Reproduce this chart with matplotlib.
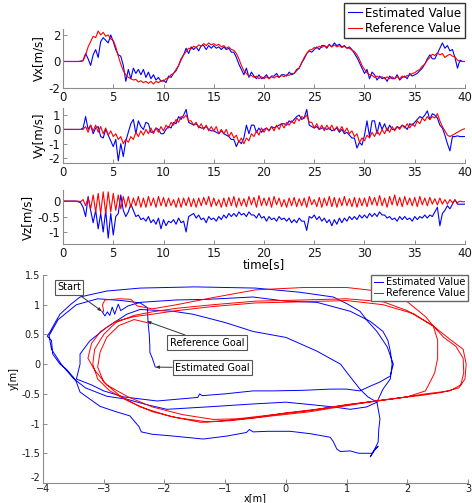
import numpy as np
import matplotlib
matplotlib.use("Agg")
import matplotlib.pyplot as plt

# velocity samples, one row per second (4 samples / s), last value at t=40
vx_ref = [
    0, 0, 0, 0,
    0, 0, 0, 0,
    0.05, 0.5, 1.1, 1.5,
    1.9, 1.8, 2.3, 2.0,
    2.2, 1.9, 2.0, 1.7,
    1.6, 1.1, 0.4, -0.2,
    -0.7, -1.0, -1.2, -1.3,
    -1.4, -1.35, -1.55, -1.45,
    -1.6, -1.5, -1.65, -1.5,
    -1.7, -1.5, -1.6, -1.45,
    -1.5, -1.3, -1.25, -1.0,
    -0.9, -0.6, -0.3, 0.1,
    0.5, 0.75, 1.0, 0.95,
    1.15, 1.05, 1.25, 1.15,
    1.35, 1.2, 1.4, 1.25,
    1.35, 1.2, 1.3, 1.1,
    1.2, 1.0, 1.1, 0.9,
    0.85, 0.6, 0.2, -0.3,
    -0.7, -0.9, -1.1, -1.05,
    -1.2, -1.1, -1.3, -1.15,
    -1.3, -1.15, -1.3, -1.15,
    -1.25, -1.1, -1.2, -1.05,
    -1.15, -1.0, -1.05, -0.9,
    -0.9, -0.7, -0.5, -0.1,
    0.3, 0.6, 0.85, 0.9,
    1.05, 1.0, 1.15, 1.05,
    1.2, 1.1, 1.25, 1.1,
    1.25, 1.1, 1.2, 1.05,
    1.15, 1.0, 1.0, 0.85,
    0.75, 0.5, 0.15, -0.3,
    -0.6, -0.85, -1.0, -1.05,
    -1.2, -1.1, -1.25, -1.15,
    -1.3, -1.15, -1.3, -1.15,
    -1.3, -1.15, -1.3, -1.1,
    -1.2, -1.05, -1.05, -0.9,
    -0.85, -0.7, -0.6, -0.35,
    -0.2, 0.1, 0.3, 0.55,
    0.45, 0.65, 0.5, 0.6,
    0.3, 0.45, 0.55, 0.4,
    0.35, 0.1, 0.0, 0.0,
    0.0]

vx_est = [
    0, 0, 0, 0,
    0, 0, 0, 0.02,
    0.1, 0.6, 0.2, -0.3,
    0.5, 0.9, 0.3, 1.5,
    1.8, 1.6, 1.4, 2.0,
    1.5, 0.9, 0.5, 0.4,
    -0.3, -1.5, -0.6, -1.3,
    -0.5, -0.9, -0.6, -1.0,
    -0.6, -1.2, -0.8, -1.3,
    -1.0, -1.4, -1.2, -1.5,
    -1.4, -1.6, -1.1, -1.2,
    -0.9, -0.7, -0.3, 0.2,
    0.5, 1.0, 0.6, 1.1,
    0.9, 1.1, 0.8, 1.2,
    1.2, 0.9, 1.2, 1.0,
    1.2, 1.0, 1.1, 0.9,
    1.1, 0.9, 1.0, 0.7,
    0.7, 0.3, -0.2, -0.6,
    -1.0, -0.5, -1.2, -0.8,
    -1.1, -1.3, -1.0, -1.3,
    -1.2, -1.0, -1.3, -1.1,
    -1.1, -0.9, -1.2, -1.0,
    -1.0, -1.1, -0.8, -1.0,
    -0.9, -0.6, -0.5, -0.1,
    0.2, 0.6, 0.8, 0.7,
    0.9, 1.1, 0.9, 1.2,
    1.2, 1.0, 1.3, 1.1,
    1.4, 1.2, 1.3, 1.1,
    1.2, 1.0, 1.1, 0.9,
    0.6, 0.3, -0.1, -0.5,
    -0.9, -0.6, -1.3, -0.8,
    -1.0, -1.4, -1.1, -1.3,
    -1.2, -1.5, -1.1, -1.3,
    -1.3, -1.0, -1.4, -1.2,
    -1.1, -1.3, -0.9, -1.1,
    -1.0, -0.9, -0.7, -0.5,
    -0.2, 0.2, 0.5, 0.2,
    0.2, 0.6, 1.0, 1.4,
    1.0, 1.2, 0.8, 0.9,
    0.3, -0.5, 0.1, 0.0,
    0.0]

vy_ref = [
    0, 0, 0, 0,
    0, 0, 0, 0,
    0.0, 0.2, -0.2, 0.3,
    -0.1, 0.3, -0.2, 0.2,
    -0.3, 0.1, -0.4, -0.1,
    -0.5, -0.3, -0.7, -0.5,
    -1.0, -0.7, -0.9, -0.5,
    -0.7, -0.2, -0.5, -0.1,
    -0.4, 0.0, -0.3, 0.1,
    -0.3, 0.1, -0.2, 0.2,
    -0.1, 0.3, 0.1, 0.5,
    0.3, 0.7, 0.5, 0.9,
    0.8, 1.0, 0.6, 0.6,
    0.3, 0.5, 0.1, 0.4,
    0.0, 0.3, -0.1, 0.2,
    -0.1, 0.2, -0.3, 0.0,
    -0.3, 0.0, -0.5, -0.2,
    -0.6, -0.4, -0.9, -0.6,
    -1.0, -0.6, -0.8, -0.3,
    -0.5, -0.1, -0.4, 0.1,
    -0.2, 0.1, -0.1, 0.2,
    -0.1, 0.3, 0.0, 0.4,
    0.1, 0.5, 0.3, 0.6,
    0.4, 0.8, 0.6, 0.9,
    0.8, 1.0, 0.5, 0.5,
    0.1, 0.4, 0.0, 0.3,
    -0.1, 0.3, 0.0, 0.3,
    -0.1, 0.2, -0.1, 0.2,
    -0.2, 0.1, -0.3, -0.1,
    -0.5, -0.3, -0.9, -0.6,
    -0.8, -0.4, -0.6, -0.2,
    -0.5, -0.1, -0.4, 0.0,
    -0.3, 0.1, -0.2, 0.2,
    -0.1, 0.2, 0.0, 0.3,
    0.1, 0.4, 0.1, 0.4,
    0.2, 0.6, 0.4, 0.8,
    0.6, 0.9, 0.7, 0.9,
    0.8, 1.1, 0.6, 0.2,
    -0.1, -0.4, -0.5, -0.4,
    -0.3, -0.2, -0.1, 0.0,
    0.05]

vy_est = [
    0, 0, 0, 0,
    0, 0, 0, 0,
    0.1, 0.9, 0.0, 0.3,
    -0.3, 0.1, 0.2, -0.5,
    -0.6, 0.0, -0.4, -0.8,
    -1.2, -0.7, -2.2, -1.0,
    -1.9, -0.8, -0.2, 0.4,
    0.7, -0.3, 0.6, 0.2,
    0.0, 0.5, 0.4, -0.2,
    -0.2, 0.1, 0.0, -0.3,
    -0.3, 0.0, 0.2, 0.1,
    0.5, 0.4, 0.9, 0.7,
    1.0, 1.4, 0.5, 0.4,
    0.3, 0.4, 0.2, 0.1,
    0.1, 0.2, 0.0, -0.1,
    -0.1, -0.2, -0.3, -0.1,
    -0.3, -0.4, -0.5, -0.7,
    -0.7, -1.2, -0.8, -1.0,
    -0.6, 0.3, -0.3, 0.3,
    0.3, -0.2, 0.1, -0.2,
    0.0, 0.1, -0.1, 0.2,
    0.1, 0.2, 0.3, 0.4,
    0.4, 0.3, 0.6, 0.5,
    0.7, 0.9, 1.0, 0.7,
    0.8, 1.4, 0.3, 0.2,
    0.1, 0.2, 0.0, 0.1,
    0.1, 0.0, 0.1, -0.1,
    0.0, 0.1, -0.2, 0.0,
    -0.3, -0.2, -0.4, -0.6,
    -0.6, -1.3, -0.9, -1.1,
    -0.4, 0.6, -0.5, 0.6,
    0.6, -0.3, 0.5, 0.0,
    0.4, -0.1, 0.3, 0.0,
    0.0, 0.2, 0.1, 0.3,
    0.2, 0.0, 0.4, 0.3,
    0.5, 0.7, 0.9, 0.8,
    1.0, 1.3, 0.7, 1.1,
    1.0, 0.8, 0.3, 0.1,
    -0.4, -1.0, -1.5, -0.5,
    -0.5, -0.45, -0.5, -0.5,
    -0.5]

vz_ref = [
    0, 0, 0, 0,
    0, 0, 0, -0.02,
    0.05, -0.15, 0.1, -0.25,
    0.2, -0.35, 0.25, -0.4,
    0.3, -0.4, 0.3, -0.35,
    0.25, -0.3, 0.2, -0.25,
    0.15, -0.2, 0.15, -0.2,
    0.1, -0.15, 0.15, -0.2,
    0.1, -0.2, 0.15, -0.15,
    0.1, -0.2, 0.15, -0.15,
    0.12, -0.18, 0.1, -0.15,
    0.05, -0.2, 0.1, -0.2,
    0.1, -0.15, 0.12, -0.18,
    0.08, -0.2, 0.1, -0.15,
    0.12, -0.12, 0.15, -0.18,
    0.1, -0.15, 0.05, -0.2,
    0.1, -0.18, 0.12, -0.15,
    0.15, -0.2, 0.1, -0.15,
    0.08, -0.18, 0.15, -0.12,
    0.12, -0.2, 0.18, -0.15,
    0.1, -0.15, 0.12, -0.2,
    0.15, -0.12, 0.1, -0.18,
    0.05, -0.2, 0.1, -0.15,
    0.12, -0.18, 0.08, -0.15,
    0.1, -0.2, 0.15, -0.12,
    0.05, -0.18, 0.12, -0.2,
    0.1, -0.15, 0.15, -0.18,
    0.12, -0.2, 0.1, -0.15,
    0.15, -0.15, 0.08, -0.18,
    0.12, -0.2, 0.1, -0.15,
    0.1, -0.18, 0.15, -0.12,
    0.12, -0.15, 0.18, -0.15,
    0.1, -0.2, 0.15, -0.12,
    0.2, -0.15, 0.12, -0.18,
    0.15, -0.12, 0.1, -0.15,
    0.12, -0.18, 0.15, -0.12,
    0.1, -0.15, 0.12, -0.1,
    0.08, -0.12, 0.1, -0.1,
    0.05, -0.1, 0.05, -0.05,
    0.02, -0.05, 0.0, -0.02,
    -0.02]

vz_est = [
    0, 0, 0, 0,
    0, 0, -0.02, -0.05,
    -0.2, -0.5, 0.15, -0.3,
    -0.7, -0.3, -0.9, -0.4,
    -1.0, -0.3, -1.2, -0.4,
    -1.1, -0.5, -0.4, 0.2,
    -0.3, -0.5, -0.35, -0.1,
    -0.3, -0.5, -0.45, -0.6,
    -0.55, -0.65, -0.5, -0.7,
    -0.6, -0.75, -0.55, -0.9,
    -0.6, -0.8, -0.65, -0.7,
    -0.6, -0.75, -0.55, -0.7,
    -0.65, -1.0, -0.5, -0.45,
    -0.4, -0.55, -0.45, -0.6,
    -0.55, -0.7, -0.5, -0.6,
    -0.55, -0.65, -0.5, -0.6,
    -0.45, -0.55, -0.4, -0.5,
    -0.4, -0.5, -0.35, -0.45,
    -0.4, -0.5, -0.35, -0.45,
    -0.45, -0.55, -0.4, -0.55,
    -0.5, -0.65, -0.5, -0.6,
    -0.55, -0.65, -0.5, -0.6,
    -0.55, -0.65, -0.55, -0.7,
    -0.6, -0.7, -0.55, -0.65,
    -0.65, -0.95, -0.5, -0.55,
    -0.45, -0.6, -0.5, -0.65,
    -0.55, -0.7, -0.6, -0.8,
    -0.6, -0.75, -0.55, -0.7,
    -0.55, -0.65, -0.5, -0.6,
    -0.5, -0.6, -0.45, -0.55,
    -0.45, -0.55, -0.4, -0.5,
    -0.4, -0.5, -0.35, -0.45,
    -0.45, -0.55, -0.5, -0.6,
    -0.55, -0.65, -0.5, -0.6,
    -0.5, -0.6, -0.55, -0.65,
    -0.5, -0.6, -0.5, -0.55,
    -0.45, -0.55, -0.45, -0.5,
    -0.35, -0.2, -0.8, -0.4,
    -0.3, -0.15, -0.25, -0.1,
    0.05, -0.1, -0.1, -0.1,
    -0.1]

t = np.arange(len(vx_ref)) * 0.25

# x-y trajectories [m]
est_xy = [
    (-3.03, 0.89), (-2.98, 0.81), (-2.94, 0.88), (-2.9, 0.82), (-2.86, 0.96), (-2.82, 0.84),
    (-2.76, 1.01), (-2.72, 0.9), (-2.6, 0.98), (-2.4, 1.04), (-1.8, 1.08), (-1.3, 1.09),
    (-0.54, 1.13), (0.0, 1.06), (0.51, 1.04), (1.06, 0.89), (1.39, 0.72), (1.6, 0.55),
    (1.68, 0.4), (1.72, 0.22), (1.75, 0.0), (1.72, -0.25), (1.6, -0.42), (1.5, -0.64),
    (1.55, -0.92), (1.53, -1.1), (1.52, -1.31), (1.44, -1.48), (1.39, -1.56), (1.46, -1.44),
    (1.52, -1.38), (1.42, -1.5), (1.2, -1.5), (1.06, -1.46), (0.9, -1.47), (0.84, -1.43),
    (0.78, -1.3), (0.73, -1.23), (0.4, -1.17), (0.07, -1.13), (-0.3, -1.13), (-0.54, -1.14),
    (-0.6, -1.1), (-0.65, -1.15), (-0.97, -1.21), (-1.36, -1.26), (-1.86, -1.21), (-2.2, -1.18),
    (-2.38, -1.14), (-2.42, -1.05), (-2.57, -0.87), (-2.8, -0.8), (-3.06, -0.71), (-3.39, -0.47),
    (-3.45, -0.3), (-3.5, -0.22), (-3.62, -0.08), (-3.72, 0.0), (-3.84, 0.17), (-3.86, 0.4),
    (-3.93, 0.47), (-3.88, 0.55), (-3.8, 0.7), (-3.72, 0.84), (-3.55, 1.0), (-3.39, 1.13),
    (-2.95, 1.23), (-2.4, 1.28), (-1.5, 1.3), (-0.5, 1.28), (0.23, 1.21), (0.78, 1.13),
    (1.0, 1.02), (1.22, 0.89), (1.35, 0.72), (1.5, 0.55), (1.67, 0.29), (1.77, 0.0),
    (1.72, -0.2), (1.55, -0.3), (1.39, -0.37), (1.22, -0.45), (1.0, -0.42), (0.73, -0.42),
    (0.3, -0.44), (-0.21, -0.45), (-0.54, -0.45), (-1.0, -0.5), (-1.38, -0.53), (-1.42, -0.5),
    (-1.45, -0.56), (-2.12, -0.62), (-2.68, -0.55), (-3.0, -0.45), (-3.2, -0.35), (-3.45, -0.25),
    (-3.39, 0.0), (-3.39, 0.17), (-3.23, 0.39), (-2.95, 0.62), (-2.62, 0.84), (-2.4, 0.92),
    (-1.86, 0.89), (-1.53, 0.84), (-1.0, 0.7), (-0.54, 0.55), (0.0, 0.45), (0.51, 0.22),
    (0.9, 0.0), (1.05, -0.2), (1.22, -0.42), (1.35, -0.55), (1.5, -0.64), (1.33, -0.72),
    (1.06, -0.76), (0.78, -0.72), (0.4, -0.68), (0.0, -0.64), (-0.54, -0.67), (-1.3, -0.72),
    (-1.96, -0.76), (-2.3, -0.68), (-2.62, -0.59), (-2.95, -0.54), (-3.3, -0.4), (-3.5, -0.24),
    (-3.7, 0.0), (-3.86, 0.25), (-3.9, 0.48), (-3.75, 0.75), (-3.45, 1.0), (-3.1, 1.1),
    (-2.7, 1.07), (-2.4, 1.03), (-2.28, 0.95), (-2.27, 0.7), (-2.25, 0.5), (-2.24, 0.3),
    (-2.24, 0.2), (-2.2, 0.1), (-2.15, -0.05)]

ref_xy = [
    (-3.0, 0.88), (-3.02, 1.0), (-2.98, 1.08), (-2.73, 1.1), (-2.55, 1.09), (-2.45, 0.98),
    (-2.2, 0.93),
    (-1.8, 1.0), (-1.2, 1.12), (-0.5, 1.25), (0.3, 1.29), (1.0, 1.29), (1.6, 1.22),
    (2.0, 1.05), (2.3, 0.8), (2.43, 0.64), (2.6, 0.45), (2.8, 0.3), (2.92, 0.1),
    (2.93, -0.15), (2.88, -0.35), (2.7, -0.45), (2.3, -0.5), (1.8, -0.58), (1.2, -0.66),
    (0.5, -0.76), (0.0, -0.82), (-0.5, -0.9), (-1.0, -0.95), (-1.3, -0.97), (-1.8, -0.9),
    (-2.2, -0.8), (-2.6, -0.62), (-2.9, -0.45), (-3.1, -0.25), (-3.18, 0.0), (-3.15, 0.25),
    (-3.0, 0.5), (-2.8, 0.7), (-2.5, 0.82), (-2.2, 0.88),
    (-1.8, 0.94), (-1.2, 1.0), (-0.5, 1.06), (0.3, 1.08), (1.0, 1.1), (1.6, 1.05),
    (2.0, 0.9), (2.25, 0.75), (2.43, 0.64), (2.5, 0.4), (2.5, 0.1), (2.45, -0.15),
    (2.3, -0.45), (2.0, -0.55), (1.5, -0.62), (1.0, -0.68), (0.4, -0.78), (-0.2, -0.85),
    (-0.8, -0.92), (-1.2, -0.93), (-1.7, -0.85), (-2.2, -0.72), (-2.6, -0.55), (-2.95, -0.35),
    (-3.15, -0.1), (-3.26, 0.1), (-3.2, 0.35), (-3.05, 0.55), (-2.8, 0.72), (-2.5, 0.8),
    (-2.2, 0.84),
    (-1.8, 0.9), (-1.2, 0.97), (-0.5, 1.03), (0.3, 1.05), (1.0, 1.07), (1.6, 1.0),
    (2.1, 0.85), (2.43, 0.64), (2.7, 0.42), (2.92, 0.25), (2.97, 0.0), (2.95, -0.25),
    (2.85, -0.4), (2.55, -0.48), (2.2, -0.53), (1.6, -0.6), (1.0, -0.7), (0.4, -0.8),
    (-0.3, -0.88), (-0.9, -0.95), (-1.4, -0.98), (-1.9, -0.88), (-2.4, -0.72), (-2.75, -0.52),
    (-3.0, -0.3), (-3.1, -0.05), (-3.06, 0.2), (-2.95, 0.45), (-2.75, 0.65), (-2.5, 0.75),
    (-2.29, 0.7)]

est_x = [p[0] for p in est_xy]
est_y = [p[1] for p in est_xy]
ref_x = [p[0] for p in ref_xy]
ref_y = [p[1] for p in ref_xy]

BLUE = "#0000ff"
RED = "#ff0000"
GREY = "#8c8c8c"

plt.rcParams["font.family"] = "DejaVu Sans"

fig = plt.figure(figsize=(4.72, 5.03), dpi=100)
W, H = 472.0, 503.0


def style(ax, fs):
    for s in ["top", "right"]:
        ax.spines[s].set_visible(False)
    for s in ["left", "bottom"]:
        ax.spines[s].set_color(GREY)
        ax.spines[s].set_linewidth(0.8)
    ax.tick_params(direction="in", length=3, width=0.7, color=GREY,
                   labelsize=fs, labelcolor="#1a1a1a", pad=2)


panels = [
    (vx_est, vx_ref, "Vx[m/s]", (-2, 2.45), [-2, 0, 2], 29, 88),
    (vy_est, vy_ref, "Vy[m/s]", (-2.35, 1.5), [-2, -1, 0, 1], 108, 163),
    (vz_est, vz_ref, "Vz[m/s]", (-1.39, 0.36), [-1, -0.5, 0], 190, 244),
]
axes = []
for est, ref, lab, ylim, yt, top, bot in panels:
    ax = fig.add_axes([63 / W, 1 - bot / H, 402 / W, (bot - top) / H])
    ax.plot(t, est, color=BLUE, lw=0.8, label="Estimated Value")
    ax.plot(t, ref, color=RED, lw=0.8, label="Reference Value")
    ax.set_xlim(0, 40)
    ax.set_ylim(*ylim)
    ax.set_yticks(yt)
    ax.set_yticklabels([f"{v:g}" for v in yt])
    ax.set_xticks(range(0, 41, 5))
    ax.set_ylabel(lab, fontsize=8.5, labelpad=2)
    style(ax, 8.5)
    axes.append(ax)

axes[0].legend(loc="upper right", bbox_to_anchor=(1.0, 1.44), fontsize=8.5,
               frameon=True, fancybox=False, edgecolor="#333333", framealpha=1,
               handlelength=1.2, handletextpad=0.3, borderpad=0.3,
               labelspacing=0.2, borderaxespad=0)
axes[2].set_xlabel("time[s]", fontsize=8.5, labelpad=-1)

# trajectory
ax4 = fig.add_axes([43 / W, 1 - 483 / H, 425 / W, 208 / H])
ax4.plot(est_x, est_y, color=BLUE, lw=0.7, label="Estimated Value")
ax4.plot(ref_x, ref_y, color=RED, lw=0.7, label="Reference Value")
ax4.set_xlim(-4, 3)
ax4.set_ylim(-2, 1.5)
ax4.set_xticks(range(-4, 4))
ax4.set_yticks(np.arange(-2, 1.51, 0.5))
ax4.set_yticklabels([f"{v:g}" for v in np.arange(-2, 1.51, 0.5)])
ax4.set_xlabel("x[m]", fontsize=7, labelpad=-1)
ax4.set_ylabel("y[m]", fontsize=7, labelpad=2)
style(ax4, 7)
ax4.tick_params(axis="x", pad=1)
# lift the bottom y label a little so it clears the "-4" below it
ax4.get_yticklabels()[0].set_va("bottom")
ax4.legend(loc="upper right", bbox_to_anchor=(1.0, 1.0), fontsize=7,
           frameon=True, fancybox=False, edgecolor="#666666", framealpha=1,
           handlelength=1.0, handletextpad=0.3, borderpad=0.25,
           labelspacing=0.1, borderaxespad=0)

box = dict(boxstyle="square,pad=0.25", fc="white", ec="#555555", lw=0.8)
arrow = dict(arrowstyle="-|>,head_length=0.3,head_width=0.12", color="#333333",
             lw=0.7, shrinkA=0, shrinkB=0)
ax4.annotate("Start", xy=(-3.03, 0.89), xytext=(-3.57, 1.29), fontsize=7,
             ha="center", va="center", bbox=box, arrowprops=arrow)
ax4.annotate("Reference Goal", xy=(-2.29, 0.72), xytext=(-1.3, 0.36), fontsize=7,
             ha="center", va="center", bbox=box, arrowprops=arrow)
ax4.annotate("Estimated Goal", xy=(-2.15, -0.05), xytext=(-1.21, -0.06), fontsize=7,
             ha="center", va="center", bbox=box, arrowprops=arrow)

fig.savefig("out.png", dpi=100)
